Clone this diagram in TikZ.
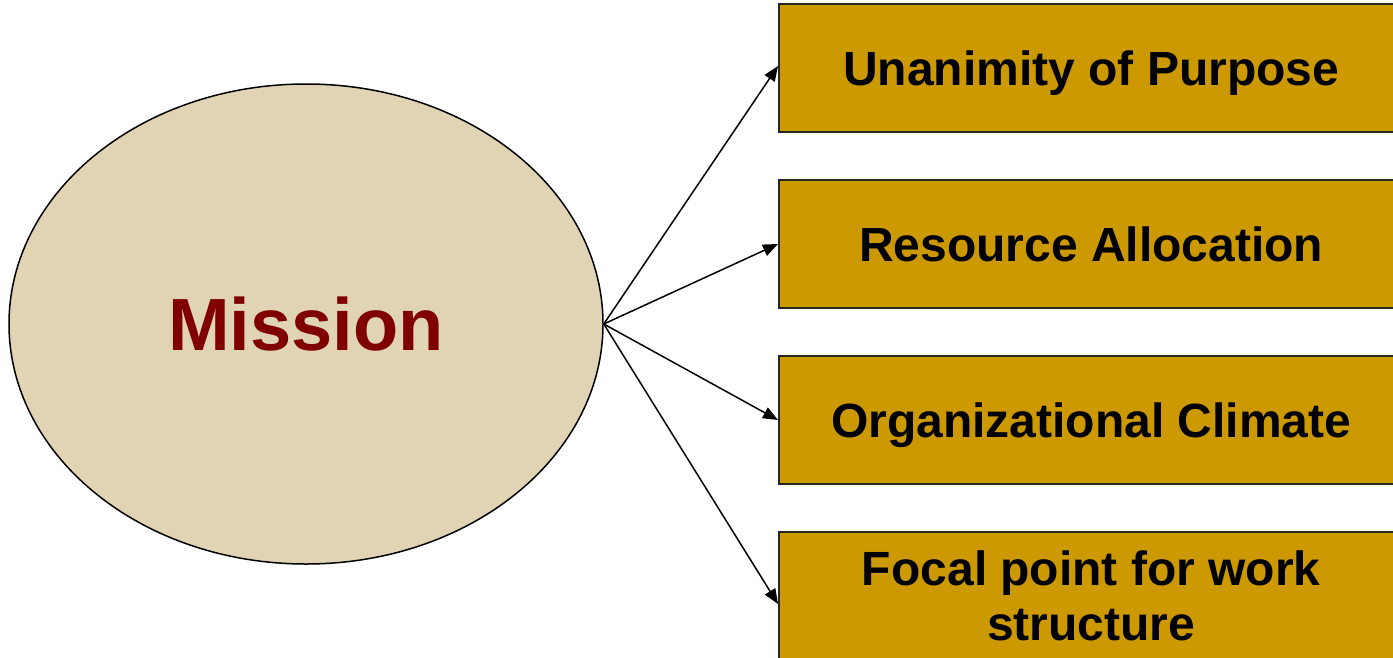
\documentclass[tikz,border=0pt]{standalone}
\usepackage{fontspec}
\setmainfont{Liberation Sans}
\usetikzlibrary{arrows.meta,shapes.geometric}
\definecolor{ellfill}{HTML}{E0D4B4}
\definecolor{boxfill}{HTML}{CC9900}
\definecolor{mis}{HTML}{800000}
\tikzset{
  goalbox/.style={draw=black!85, line width=1.6pt, fill=boxfill, minimum width=625pt, minimum height=128pt, anchor=west, inner sep=0pt, align=center, font=\fontsize{48}{55}\selectfont\bfseries},
  oneline/.style={text depth=0pt},
  conn/.style={line width=1.5pt, -{Triangle[length=15pt,width=12pt]}}
}
\begin{document}
\begin{tikzpicture}[x=1pt,y=-1pt]
\useasboundingbox (0,0) rectangle (1393,657);
\clip (0,0) rectangle (1393,657);
\node[ellipse, draw, line width=1.5pt, fill=ellfill, minimum width=594pt, minimum height=480pt, inner sep=0pt, font=\fontsize{74}{80}\selectfont\bfseries, text=mis] (m) at (306,324) {Mission};
\node[goalbox, oneline] (b1) at (778,68) {Unanimity of Purpose};
\node[goalbox, oneline] (b2) at (778,244) {Resource Allocation};
\node[goalbox, oneline] (b3) at (778,420) {Organizational Climate};
\node[goalbox] (b4) at (778,596) {Focal point for work\\structure};
\coordinate (s) at (m.east);
\draw[conn] (s) -- ([yshift=2pt]b1.west);
\draw[conn] (s) -- (b2.west);
\draw[conn] (s) -- (b3.west);
\draw[conn] (s) -- ([yshift=-8pt]b4.west);
\end{tikzpicture}
\end{document}
